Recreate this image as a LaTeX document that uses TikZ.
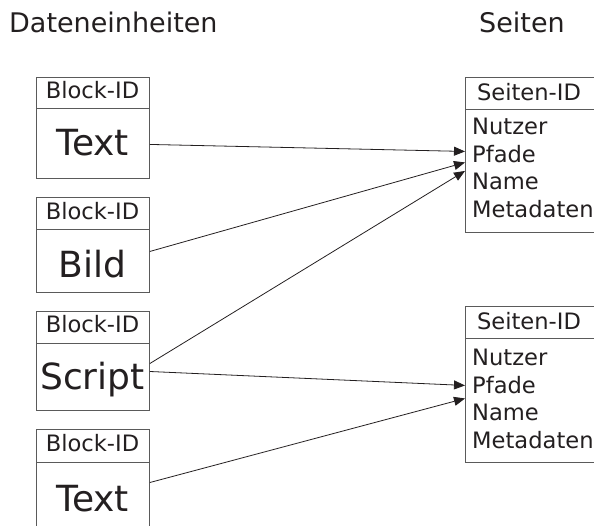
\documentclass[tikz,border=0pt]{standalone}
\usepackage{fontspec}
\setmainfont{DejaVu Sans}
\usetikzlibrary{arrows.meta}

\definecolor{ink}{HTML}{231F20}
\definecolor{frame}{HTML}{5A5A5A}

\tikzset{
  cell/.style={draw=frame, line width=0.9pt, rectangle, inner sep=0pt, anchor=north west},
  title/.style={font=\fontsize{27}{32}\selectfont, text=ink, inner sep=0pt, anchor=base west},
  small/.style={font=\fontsize{22.6}{26}\selectfont, text=ink, inner sep=0pt},
  big/.style={font=\fontsize{36}{42}\selectfont, text=ink, inner sep=0pt, anchor=base},
  link/.style={draw=ink, line width=0.8pt, -{Triangle[length=11pt,width=9pt]}}
}

\begin{document}
\begin{tikzpicture}[x=1pt, y=-1pt]
  \useasboundingbox (0,0) rectangle (594,526);
  \clip (0,0) rectangle (594,526);

  % column titles
  \node[title] (hdata) at (9,33) {Dateneinheiten};
  \node[title] (hpage) at (479,33) {Seiten};

  % data units: header cell + body cell
  \node[cell, minimum width=113pt, minimum height=31.6pt] (l1h) at (36,76.7) {};
  \node[cell, minimum width=113pt, minimum height=69.4pt] (l1b) at (36,108.3) {};
  \node[cell, minimum width=113pt, minimum height=32.6pt] (l2h) at (36,196.7) {};
  \node[cell, minimum width=113pt, minimum height=63pt]   (l2b) at (36,229.3) {};
  \node[cell, minimum width=113pt, minimum height=31.7pt] (l3h) at (36,311) {};
  \node[cell, minimum width=113pt, minimum height=67.3pt] (l3b) at (36,342.7) {};
  \node[cell, minimum width=113pt, minimum height=32.4pt] (l4h) at (36,429.3) {};
  \node[cell, minimum width=113pt, minimum height=72.3pt] (l4b) at (36,461.7) {};

  \node[small, anchor=base] (l1id) at (92.5,98.3)  {Block-ID};
  \node[small, anchor=base] (l2id) at (92.5,219.3) {Block-ID};
  \node[small, anchor=base] (l3id) at (92.5,332.7) {Block-ID};
  \node[small, anchor=base] (l4id) at (92.5,451.7) {Block-ID};

  \node[big] (l1t) at (92.5,156) {Text};
  \node[big] (l2t) at (92.5,278) {Bild};
  \node[big] (l3t) at (92.5,389) {Script};
  \node[big] (l4t) at (92.5,511) {Text};

  % pages: header cell + body cell (right side runs past the edge)
  \node[cell, minimum width=140pt, minimum height=32pt]  (rah) at (465,77) {};
  \node[cell, minimum width=140pt, minimum height=123pt] (rab) at (465,109) {};
  \node[cell, minimum width=140pt, minimum height=32pt]  (rbh) at (465,306) {};
  \node[cell, minimum width=140pt, minimum height=124pt] (rbb) at (465,338) {};

  \node[small, anchor=base] (raid) at (529,101) {Seiten-ID};
  \node[small, anchor=base west] (ra1) at (472,135) {Nutzer};
  \node[small, anchor=base west] (ra2) at (472,163) {Pfade};
  \node[small, anchor=base west] (ra3) at (472,190) {Name};
  \node[small, anchor=base west] (ra4) at (472,218) {Metadaten};

  \node[small, anchor=base] (rbid) at (529,330) {Seiten-ID};
  \node[small, anchor=base west] (rb1) at (472,365) {Nutzer};
  \node[small, anchor=base west] (rb2) at (472,393) {Pfade};
  \node[small, anchor=base west] (rb3) at (472,420) {Name};
  \node[small, anchor=base west] (rb4) at (472,448) {Metadaten};

  % links from data units to pages
  \draw[link] ([yshift=-1pt]l1b.east)    -- ([yshift=19.5pt]rab.west);
  \draw[link] ([yshift=9.8pt]l2b.east)   -- ([yshift=8.5pt]rab.west);
  \draw[link] ([yshift=13.3pt]l3b.east)  -- (rab.west);
  \draw[link] ([yshift=5.3pt]l3b.east)   -- ([yshift=15pt]rbb.west);
  \draw[link] ([yshift=15.8pt]l4b.east)  -- ([yshift=2pt]rbb.west);
\end{tikzpicture}
\end{document}
